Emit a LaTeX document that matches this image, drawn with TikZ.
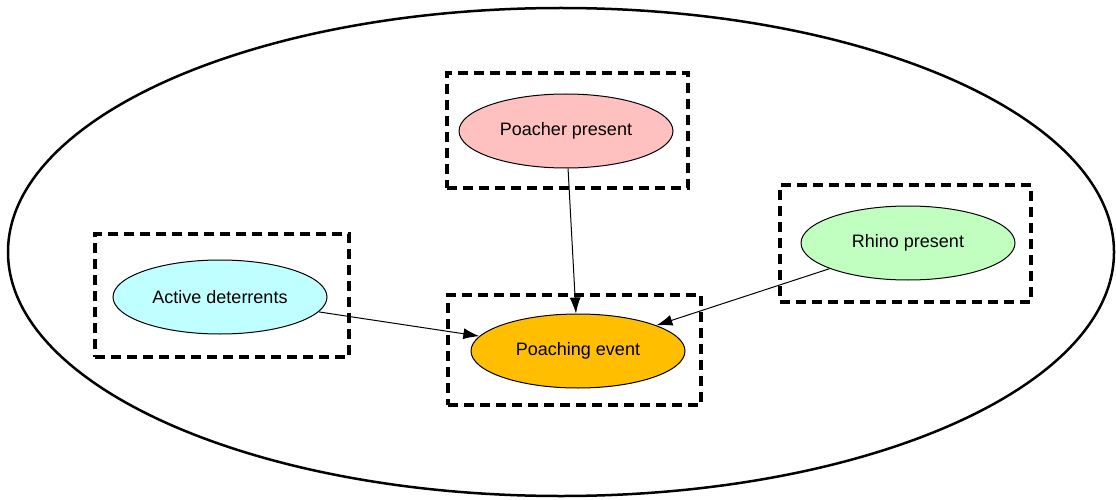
\documentclass[tikz,border=0pt]{standalone}
\usepackage{fontspec}
\setmainfont{Liberation Sans}
\usetikzlibrary{shapes.geometric, arrows.meta, positioning}
\definecolor{poachpink}{HTML}{FFC0C0}
\definecolor{rhinogreen}{HTML}{C0FFC0}
\definecolor{detercyan}{HTML}{C0FFFF}
\definecolor{eventorange}{HTML}{FFBF00}
\tikzset{
  varnode/.style={ellipse, draw, line width=1pt, minimum width=214pt, minimum height=74pt, font=\fontsize{18}{20}\selectfont},
  groupbox/.style={rectangle, draw, line width=3.5pt, dash pattern=on 10pt off 6pt},
  link/.style={-{Latex[length=16pt,width=11pt]}, line width=1pt}
}
\begin{document}
\begin{tikzpicture}[x=1pt, y=-1pt]
\useasboundingbox (0,0) rectangle (1116,500);

%outer ellipse
\node[ellipse, draw, line width=2.5pt, minimum width=1106pt, minimum height=488pt] (outer) at (561,252) {};

%boxes
\node[groupbox, minimum width=241pt, minimum height=115pt] (poacherbox) at (567.5,130.5) {};
\node[groupbox, minimum width=251pt, minimum height=117pt] (rhinobox) at (905.5,243.5) {};
\node[groupbox, minimum width=254pt, minimum height=123pt] (deterbox) at (222,295.5) {};
\node[groupbox, minimum width=253pt, minimum height=110pt] (eventbox) at (574.5,350) {};

%variables
\node[varnode, fill=poachpink] (poacher) at (566,131) {Poacher present};
\node[varnode, fill=rhinogreen] (rhino) at (908,243) {Rhino present};
\node[varnode, fill=detercyan] (deter) at (220,297) {Active deterrents};
\node[varnode, fill=eventorange] (event) at (578,351) {Poaching event};

%links
\draw[link] (poacher) -- (event);
\draw[link] (rhino) -- (event);
\draw[link] (deter) -- (event);

\end{tikzpicture}
\end{document}
